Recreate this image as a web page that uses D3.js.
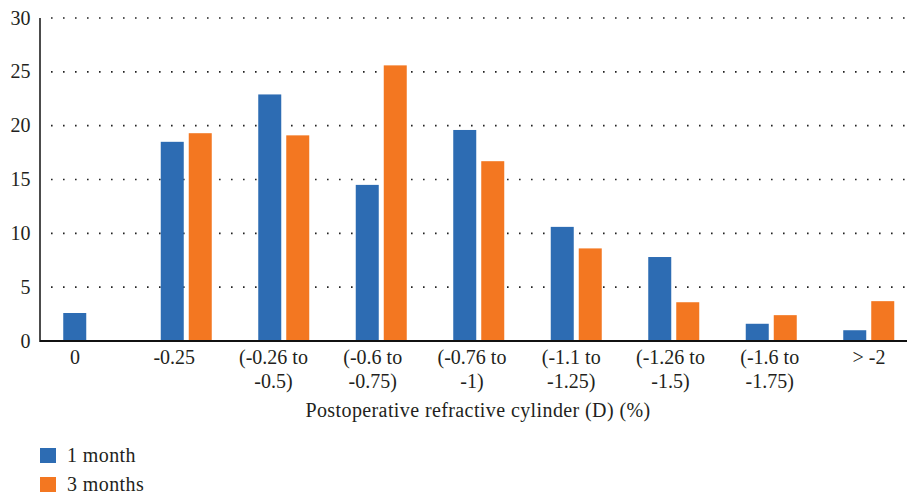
<!DOCTYPE html>
<html><head><meta charset="utf-8">
<script src="https://cdn.jsdelivr.net/npm/d3@7/dist/d3.min.js"></script>
<style>body{margin:0;background:#fff}svg{display:block}text{font-family:"Liberation Serif","Times New Roman",serif;fill:#231f20}</style>
</head><body>
<svg id="c" width="907" height="493"></svg>
<script>
const categories = ["0", "-0.25", "(-0.26 to|-0.5)", "(-0.6 to|-0.75)", "(-0.76 to|-1)", "(-1.1 to|-1.25)", "(-1.26 to|-1.5)", "(-1.6 to|-1.75)", "> -2"];
const seriesNames = ["1 month", "3 months"];
const oneMonth = [2.6, 18.5, 22.9, 14.5, 19.6, 10.6, 7.8, 1.6, 1.0];
const threeMonths = [null, 19.3, 19.1, 25.6, 16.7, 8.6, 3.6, 2.4, 3.7];
const yTicks = [0, 5, 10, 15, 20, 25, 30];
const colors = ["#2d6cb3", "#f37721"];
const xTitle = "Postoperative refractive cylinder (D) (%)";

(function () {
const svg = d3.select("#c");
const mLeft = 40, mRight = 917.5, mTop = 18, mBottom = 341;
const y = d3.scaleLinear().domain([0, 30]).range([mBottom, mTop]);
const x0 = d3.scaleBand().domain(categories).range([mLeft, mRight]);
const bw = x0.bandwidth();
const x1 = d3.scaleBand().domain(seriesNames).range([bw/2 - 25.5, bw/2 + 25.5]).paddingInner(5/28);
const xLab = d3.scalePoint().domain(categories).range([75, 869]);

svg.append("g").selectAll("line").data(yTicks.filter(d => d > 0)).join("line")
  .attr("x1", 51).attr("x2", 907).attr("y1", d => y(d)).attr("y2", d => y(d))
  .attr("stroke", "#222").attr("stroke-width", 1.6).attr("stroke-dasharray", "1.6,10.4");

svg.append("g").selectAll("text").data(yTicks).join("text")
  .attr("x", 30.5).attr("y", d => y(d)).attr("dy", "0.33em").attr("text-anchor", "end")
  .attr("font-size", 20).text(d => d);

const seriesData = [oneMonth, threeMonths];
seriesData.forEach((vals, si) => {
  svg.append("g").selectAll("rect").data(vals.map((v, i) => ({v, c: categories[i]})).filter(d => d.v != null)).join("rect")
    .attr("x", d => x0(d.c) + x1(seriesNames[si]))
    .attr("width", x1.bandwidth())
    .attr("y", d => y(d.v))
    .attr("height", d => y(0) - y(d.v))
    .attr("fill", colors[si]);
});

svg.append("line").attr("x1", mLeft).attr("x2", 907).attr("y1", mBottom).attr("y2", mBottom)
  .attr("stroke", "#111").attr("stroke-width", 1.8);
svg.append("line").attr("x1", mLeft).attr("x2", mLeft).attr("y1", mTop).attr("y2", mBottom + 0.9)
  .attr("stroke", "#111").attr("stroke-width", 1.5);

const cl = svg.append("g").selectAll("text").data(categories).join("text")
  .attr("text-anchor", "middle").attr("font-size", 20);
cl.each(function(d) {
  const t = d3.select(this);
  d.split("|").forEach((line, i) => {
    t.append("tspan").attr("x", xLab(d)).attr("y", 364 + i * 24).text(line);
  });
});

svg.append("text").attr("x", 478).attr("y", 417).attr("text-anchor", "middle")
  .attr("font-size", 20).attr("letter-spacing", 0.4).text(xTitle);

const lg = svg.append("g").selectAll("g").data(seriesNames).join("g")
  .attr("transform", (d, i) => `translate(40, ${448 + i * 29})`);
lg.append("rect").attr("width", 16).attr("height", 15).attr("fill", (d, i) => colors[i]);
lg.append("text").attr("x", 27).attr("y", 13.5).attr("font-size", 20).attr("letter-spacing", 0.4).text(d => d);
})();
</script>
</body></html>
